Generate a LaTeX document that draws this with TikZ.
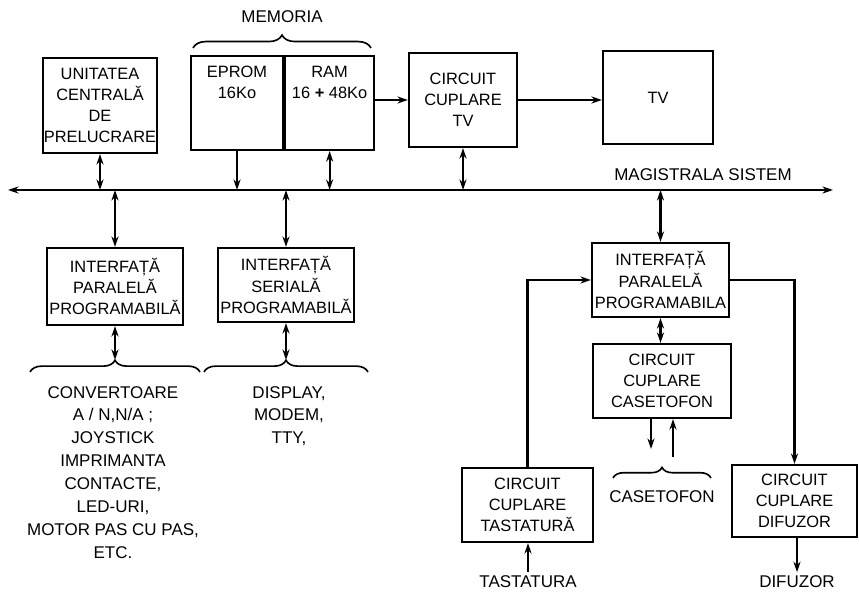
\documentclass[tikz,border=0pt]{standalone}
\usepackage{fontspec}
\setmainfont{Liberation Sans}
\usetikzlibrary{arrows.meta, positioning, decorations.pathreplacing}

\begin{document}
\begin{tikzpicture}[x=0.03cm, y=-0.03cm, >={Stealth[length=9pt, width=6pt]},
    blk/.style={draw, line width=1.8pt, align=center, inner sep=1pt, font=\fontsize{14}{18}\selectfont},
    lbl/.style={align=center, inner sep=0pt, font=\fontsize{14.5}{19.5}\selectfont},
    wire/.style={line width=1.8pt},
    brc/.style={line width=1.4pt, decorate, decoration={brace, amplitude=#1}}]
    \useasboundingbox (0,0) rectangle (859,597);
    % upper row
    \node[blk, minimum width=3.3cm, minimum height=2.85cm] (cpu) at (100,105.5) {UNITATEA\\CENTRALĂ\\DE\\PRELUCRARE};
    \node[blk, minimum width=2.76cm, minimum height=2.82cm] (eprom) at (237,103) {EPROM\\16Ko\\[18pt]};
    \node[blk, minimum width=2.67cm, minimum height=2.82cm, right=0pt of eprom] (ram) {RAM\\16 {\bfseries +} 48Ko\\[18pt]};
    \node[blk, minimum width=3.24cm, minimum height=2.82cm] (tvc) at (463,100) {CIRCUIT\\CUPLARE\\TV};
    \node[blk, minimum width=3.3cm, minimum height=2.79cm] (tv) at (658,97.5) {TV};
    \coordinate (memL) at (193,48);
    \coordinate (memR) at (371,48);
    \draw[brc=11pt] (memL) -- (memR);
    \node[lbl] (memname) at (282,17) {MEMORIA};
    \draw[wire,->] (tvc.west -| ram.east) -- (tvc.west);
    \draw[wire,->] (tvc.east) -- (tvc.east -| tv.west);
    % magistrala
    \coordinate (busL) at (8,190);
    \coordinate (busR) at (833,190);
    \draw[wire,<->] (busL) -- (busR);
    \node[lbl] (busname) at (703,175) {MAGISTRALA SISTEM};
    \draw[wire,<->] (cpu.south) -- (cpu.south |- busL);
    \draw[wire,->] (eprom.south) -- (eprom.south |- busL);
    \draw[wire,<->] (ram.south) -- (ram.south |- busL);
    \draw[wire,<->] (tvc.south) -- (tvc.south |- busL);
    % interfete
    \node[blk, minimum width=4.08cm, minimum height=2.31cm] (ppi1) at (115,286.5) {INTERFAȚĂ\\PARALELĂ\\PROGRAMABILĂ};
    \node[blk, minimum width=4.08cm, minimum height=2.22cm] (sio) at (286,285) {INTERFAȚĂ\\SERIALĂ\\PROGRAMABILĂ};
    \node[blk, minimum width=4.11cm, minimum height=2.22cm] (ppi2) at (660.5,280) {INTERFAȚĂ\\PARALELĂ\\PROGRAMABILA};
    \draw[wire,<->] (busL -| ppi1.north) -- (ppi1.north);
    \draw[wire,<->] (busL -| sio.north) -- (sio.north);
    \draw[wire,<->] (busL -| ppi2.north) -- (ppi2.north);
    % periferice stanga
    \coordinate (brAl) at (30,372);
    \coordinate (brAr) at (200,372);
    \coordinate (tipA) at (115,360);
    \draw[brc=10pt] (brAl) -- (brAr);
    \draw[wire,<->] (ppi1.south) -- (tipA);
    \node[lbl, anchor=north] (devA) at (113,386) {CONVERTOARE\\A / N,N/A ;\\JOYSTICK\\IMPRIMANTA\\CONTACTE,\\LED-URI,\\MOTOR PAS CU PAS,\\ETC.};
    \coordinate (brBl) at (204,372);
    \coordinate (brBr) at (368,372);
    \coordinate (tipB) at (286,360);
    \draw[brc=10pt] (brBl) -- (brBr);
    \draw[wire,<->] (sio.south) -- (tipB);
    \node[lbl, anchor=north] (devB) at (289,386) {DISPLAY,\\MODEM,\\TTY,};
    % periferice dreapta
    \node[blk, minimum width=4.14cm, minimum height=2.22cm] (cas) at (662,381) {CIRCUIT\\CUPLARE\\CASETOFON};
    \node[blk, minimum width=3.93cm, minimum height=2.22cm] (tast) at (527.5,505) {CIRCUIT\\CUPLARE\\TASTATURĂ};
    \node[blk, minimum width=3.75cm, minimum height=2.16cm] (dif) at (794.5,501) {CIRCUIT\\CUPLARE\\DIFUZOR};
    \draw[wire,<->] (ppi2.south) -- (ppi2.south |- cas.north);
    \draw[wire,->] (tast.north) |- (ppi2.west);
    \draw[wire,->] (ppi2.east) -| (dif.north);
    \coordinate (casIn) at (651,449);
    \coordinate (casOut) at (673,457);
    \draw[wire,->] (cas.south -| casIn) -- (casIn);
    \draw[wire,->] (casOut) -- (cas.south -| casOut);
    \coordinate (brCl) at (613,478);
    \coordinate (brCr) at (711,478);
    \draw[brc=9pt] (brCl) -- (brCr);
    \node[lbl] (casname) at (662,497) {CASETOFON};
    \node[lbl] (kbd) at (528,582) {TASTATURA};
    \node[lbl] (spk) at (797,582) {DIFUZOR};
    \draw[wire,->] ([yshift=3pt]kbd.north) -- (kbd.north |- tast.south);
    \draw[wire,->] (dif.south -| spk.north) -- ([yshift=3pt]spk.north);
\end{tikzpicture}
\end{document}
